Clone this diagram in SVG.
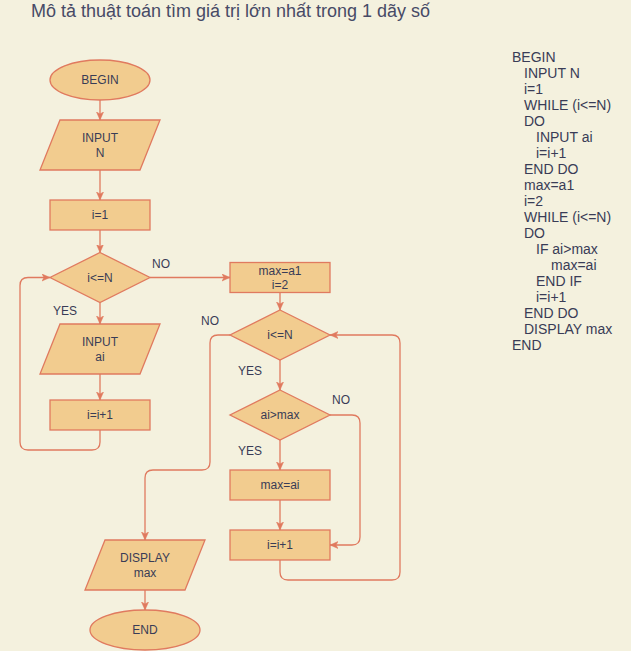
<svg xmlns="http://www.w3.org/2000/svg" width="631" height="651" viewBox="0 0 631 651">
<defs>
<marker id="arr" markerWidth="9" markerHeight="8" refX="8" refY="3.5" orient="auto" markerUnits="userSpaceOnUse">
<path d="M0,0 L8,3.5 L0,7 L2,3.5 Z" fill="#E07A5F" stroke="#E07A5F" stroke-width="0.5"/>
</marker>
<style>
.s{fill:#F2CC8F;stroke:#E07A5F;stroke-width:1.3}
.e{fill:none;stroke:#E07A5F;stroke-width:1.3;marker-end:url(#arr)}
text{font-family:"Liberation Sans",Arial,sans-serif;fill:#393C56}
.t{font-size:12px;text-anchor:middle}
.l{font-size:12px}
.c{font-size:14px}
</style>
</defs>
<rect x="0" y="0" width="631" height="651" fill="#F4F1DE"/>
<text x="31" y="17" style="font-size:18px;fill:#474A66">Mô tả thuật toán tìm giá trị lớn nhất trong 1 dãy số</text>

<g id="connectors">
<path class="e" d="M100,100 L100,120"/>
<path class="e" d="M100,170 L100,200"/>
<path class="e" d="M100,230 L100,252.5"/>
<path class="e" d="M100,302.5 L100,324"/>
<path class="e" d="M100,374 L100,400"/>
<path class="e" d="M100,430 L100,442 Q100,450 92,450 L28,450 Q20,450 20,442 L20,285.5 Q20,277.5 28,277.5 L50,277.5"/>
<path class="e" d="M150,277.5 L230,277.5"/>
<path class="e" d="M280,292.5 L280,310"/>
<path class="e" d="M230,335 L218,335 Q210,335 210,343 L210,462 Q210,470 202,470 L153,470 Q145,470 145,478 L145,540"/>
<path class="e" d="M280,360 L280,390"/>
<path class="e" d="M280,440 L280,470"/>
<path class="e" d="M280,500 L280,530"/>
<path class="e" d="M330,415 L352,415 Q360,415 360,423 L360,537 Q360,545 352,545 L330,545"/>
<path class="e" d="M280,560 L280,572 Q280,580 288,580 L392,580 Q400,580 400,572 L400,343 Q400,335 392,335 L330,335"/>
<path class="e" d="M145,590 L145,610"/>
<text class="l" x="152" y="268">NO</text>
<text class="l" x="53" y="315">YES</text>
<text class="l" x="201" y="325">NO</text>
<text class="l" x="238" y="375">YES</text>
<text class="l" x="332" y="404">NO</text>
<text class="l" x="238" y="455">YES</text>
</g>

<g id="begin"><ellipse class="s" cx="100" cy="80" rx="50" ry="20"/><text class="t" x="100" y="84.3">BEGIN</text></g>
<g id="inputN"><polygon class="s" points="60,120 160,120 140,170 40,170"/><text class="t" x="100" y="142.3">INPUT</text><text class="t" x="100" y="156.8">N</text></g>
<g id="i1"><rect class="s" x="50" y="200" width="100" height="30"/><text class="t" x="100" y="219.3">i=1</text></g>
<g id="cond1"><polygon class="s" points="100,252.5 150,277.5 100,302.5 50,277.5"/><text class="t" x="100" y="281.8">i&lt;=N</text></g>
<g id="inputAi"><polygon class="s" points="60,324 160,324 140,374 40,374"/><text class="t" x="100" y="346.3">INPUT</text><text class="t" x="100" y="360.8">ai</text></g>
<g id="inc1"><rect class="s" x="50" y="400" width="100" height="30"/><text class="t" x="100" y="419.3">i=i+1</text></g>
<g id="init2"><rect class="s" x="230" y="262.5" width="100" height="30"/><text class="t" x="280" y="274.8">max=a1</text><text class="t" x="280" y="288.8">i=2</text></g>
<g id="cond2"><polygon class="s" points="280,310 330,335 280,360 230,335"/><text class="t" x="280" y="339.3">i&lt;=N</text></g>
<g id="cond3"><polygon class="s" points="280,390 330,415 280,440 230,415"/><text class="t" x="280" y="419.3">ai&gt;max</text></g>
<g id="assign"><rect class="s" x="230" y="470" width="100" height="30"/><text class="t" x="280" y="489.3">max=ai</text></g>
<g id="inc2"><rect class="s" x="230" y="530" width="100" height="30"/><text class="t" x="280" y="549.3">i=i+1</text></g>
<g id="display"><polygon class="s" points="105,540 205,540 185,590 85,590"/><text class="t" x="145" y="562.3">DISPLAY</text><text class="t" x="145" y="576.8">max</text></g>
<g id="end"><ellipse class="s" cx="145" cy="630" rx="55" ry="20"/><text class="t" x="145" y="634.3">END</text></g>

<g id="pseudocode">
<text class="c" x="512" y="62">BEGIN</text>
<text class="c" x="524" y="78">INPUT N</text>
<text class="c" x="524" y="94">i=1</text>
<text class="c" x="524" y="110">WHILE (i&lt;=N)</text>
<text class="c" x="524" y="126">DO</text>
<text class="c" x="536" y="142">INPUT ai</text>
<text class="c" x="536" y="158">i=i+1</text>
<text class="c" x="524" y="174">END DO</text>
<text class="c" x="524" y="190">max=a1</text>
<text class="c" x="524" y="206">i=2</text>
<text class="c" x="524" y="222">WHILE (i&lt;=N)</text>
<text class="c" x="524" y="238">DO</text>
<text class="c" x="536" y="254">IF ai&gt;max</text>
<text class="c" x="551" y="270">max=ai</text>
<text class="c" x="536" y="286">END IF</text>
<text class="c" x="536" y="302">i=i+1</text>
<text class="c" x="524" y="318">END DO</text>
<text class="c" x="524" y="334">DISPLAY max</text>
<text class="c" x="512" y="350">END</text>
</g>
</svg>
